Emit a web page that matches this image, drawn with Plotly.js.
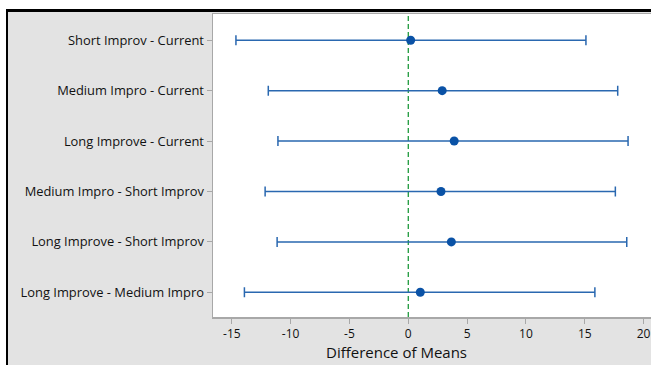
<!DOCTYPE html>
<html>
<head>
<meta charset="utf-8">
<script src="https://cdn.plot.ly/plotly-3.0.1.min.js"></script>
<style>
  html, body { margin:0; padding:0; background:#ffffff; }
  #wrap { position:relative; width:651px; height:365px; overflow:hidden; background:#ffffff; }
  #chart { position:absolute; left:0; top:0; width:651px; height:365px; }
  #maskTop { position:absolute; left:0; top:0; width:651px; height:9px; background:#ffffff; }
  #maskLeft { position:absolute; left:0; top:0; width:6px; height:365px; background:#ffffff; }
  #bTop { position:absolute; left:6px; top:9px; width:645px; height:3px; background:#000000; }
  #bLeft { position:absolute; left:6px; top:9px; width:2px; height:356px; background:#000000; }
</style>
</head>
<body>
<div id="wrap">
  <div id="chart"></div>
  <div id="maskTop"></div>
  <div id="maskLeft"></div>
  <div id="bTop"></div>
  <div id="bLeft"></div>
</div>
<script>
const categories = [
  "Short Improv - Current",
  "Medium Impro - Current",
  "Long Improve - Current",
  "Medium Impro - Short Improv",
  "Long Improve - Short Improv",
  "Long Improve - Medium Impro"
];
const means = [0.2, 2.88, 3.9, 2.78, 3.66, 1.02];
const lower = [-14.65, -11.9, -11.08, -12.17, -11.15, -13.93];
const upper = [15.1, 17.8, 18.68, 17.6, 18.57, 15.86];
const xTickVals = [-15, -10, -5, 0, 5, 10, 15, 20];
const xTitle = "Difference of Means";

const plusErr = means.map((m, i) => upper[i] - m);
const minusErr = means.map((m, i) => m - lower[i]);

const trace = {
  type: 'scatter',
  mode: 'markers',
  x: means,
  y: categories,
  marker: { color: '#0a52a6', size: 9, symbol: 'circle' },
  error_x: {
    type: 'data',
    symmetric: false,
    array: plusErr,
    arrayminus: minusErr,
    color: '#2a68b0',
    thickness: 1.5,
    width: 5
  },
  hoverinfo: 'skip',
  showlegend: false
};

const layout = {
  width: 651,
  height: 365,
  margin: { l: 213, r: 0, t: 14, b: 48, pad: 0 },
  paper_bgcolor: '#e3e3e3',
  plot_bgcolor: '#ffffff',
  font: { family: 'Open Sans, Noto Sans, sans-serif', size: 11, color: '#111111' },
  xaxis: {
    range: [-16.6, 20.63],
    tickvals: xTickVals,
    ticktext: xTickVals.map(String),
    showgrid: false,
    zeroline: false,
    showline: true,
    linecolor: '#a8a8a8',
    linewidth: 1.5,
    mirror: true,
    ticks: 'outside',
    ticklen: 5,
    tickcolor: '#a8a8a8',
    tickfont: { size: 12, color: '#111111' }
  },
  yaxis: {
    type: 'category',
    categoryorder: 'array',
    categoryarray: categories,
    range: [5.49, -0.52],
    showgrid: false,
    zeroline: false,
    showline: true,
    linecolor: '#a8a8a8',
    linewidth: 1.5,
    ticks: 'outside',
    ticklen: 5,
    tickcolor: '#a8a8a8',
    tickfont: { size: 12.9, color: '#111111' }
  },
  shapes: [{
    type: 'line',
    xref: 'x', yref: 'paper',
    x0: 0, x1: 0, y0: 0, y1: 1,
    line: { color: '#1e9a3c', width: 1.3, dash: '5px,3px' },
    layer: 'below'
  }],
  annotations: [{
    text: xTitle,
    xref: 'paper', yref: 'paper',
    x: 0.42, y: -0.1155,
    xanchor: 'center', yanchor: 'middle',
    showarrow: false,
    font: { size: 15, color: '#111111' }
  }]
};

Plotly.newPlot('chart', [trace], layout, { displayModeBar: false, staticPlot: true });
</script>
</body>
</html>
